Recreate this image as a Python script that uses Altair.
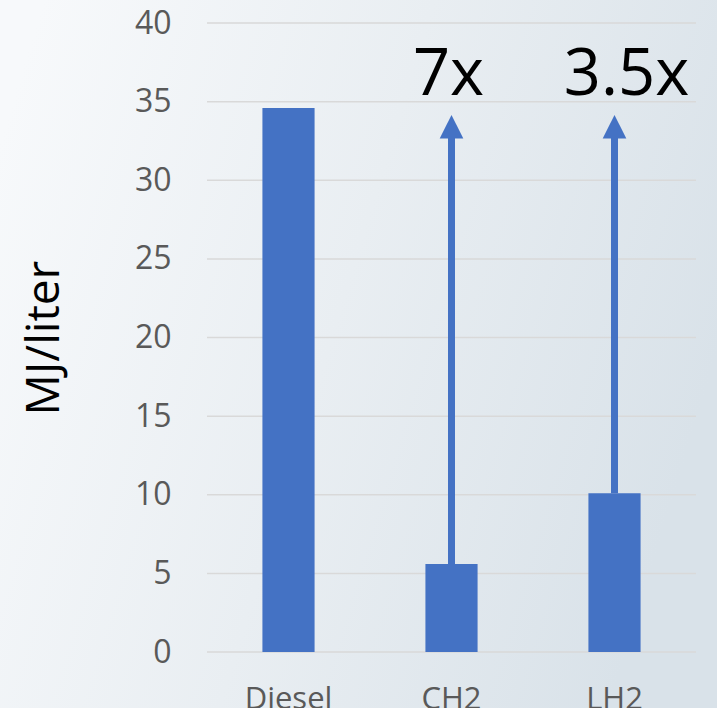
import altair as alt
import pandas as pd

categories = ["Diesel", "CH2", "LH2"]
values = [34.6, 5.6, 10.1]
arrow_cats = ["CH2", "LH2"]
arrow_start = [5.6, 10.1]
arrow_base = [32.7, 32.7]
arrow_tip = [33.4, 33.4]
labels = ["7x", "3.5x"]
label_y = [35.4, 35.4]
y_ticks = [0, 5, 10, 15, 20, 25, 30, 35, 40]

bars_df = pd.DataFrame({"fuel": categories, "value": values})
arrows_df = pd.DataFrame({"fuel": arrow_cats, "start": arrow_start,
                          "base": arrow_base, "tip": arrow_tip,
                          "label": labels, "ly": label_y})
grid_df = pd.DataFrame({"value": y_ticks})

W, H = 489, 629
BLUE = "#4472C4"

xscale = alt.Scale(domain=categories, paddingInner=0.68, paddingOuter=0.34)
yscale = alt.Scale(domain=[0, 40], nice=False)

x_enc = alt.X("fuel:N", scale=xscale, sort=categories, title=None,
              axis=alt.Axis(labelAngle=0, labelFontSize=31, labelColor="#595959",
                            labelFont="Open Sans", labelPadding=32, ticks=False,
                            domain=False, zindex=1))
y_enc = alt.Y("value:Q", scale=yscale,
              axis=alt.Axis(values=y_ticks, labelFontSize=32, labelColor="#595959",
                            labelFont="Open Sans", labelPadding=36, ticks=False,
                            domain=False, grid=False, zindex=1,
                            title="MJ/liter", titleFontSize=46, titleFont="Open Sans",
                            titleFontWeight="normal", titleColor="#000000",
                            titlePadding=66))

bg = alt.Chart(pd.DataFrame({"a": [0]})).mark_rect(
    fill=alt.Gradient(gradient="linear", x1=0, y1=0.2, x2=1, y2=0.5,
                      stops=[alt.GradientStop(offset=0, color="#f7f9fb"),
                             alt.GradientStop(offset=0.5, color="#e9eef2"),
                             alt.GradientStop(offset=1, color="#d9e2e9")])
).encode(x=alt.value(-207), x2=alt.value(W + 21), y=alt.value(-23), y2=alt.value(H + 56))

grid = alt.Chart(grid_df).mark_rule(color="#d9d9d9", strokeWidth=1.5).encode(
    y=alt.Y("value:Q", scale=yscale), x=alt.value(0), x2=alt.value(W))

bars = alt.Chart(bars_df).mark_bar(color=BLUE).encode(x=x_enc, y=y_enc)

shaft = alt.Chart(arrows_df).mark_rule(color=BLUE, strokeWidth=7).encode(
    x=alt.X("fuel:N", scale=xscale, sort=categories),
    y=alt.Y("start:Q", scale=yscale), y2="base:Q")

head = alt.Chart(arrows_df).mark_point(
    shape="M0,-1L1,1L-1,1Z", filled=True, fill=BLUE, size=560, opacity=1
).encode(x=alt.X("fuel:N", scale=xscale, sort=categories),
         y=alt.Y("tip:Q", scale=yscale))

txt1 = alt.Chart(arrows_df).transform_filter(alt.datum.fuel == "CH2").mark_text(
    fontSize=65, font="Open Sans", color="#000000", baseline="alphabetic", dx=-3
).encode(x=alt.X("fuel:N", scale=xscale, sort=categories),
         y=alt.Y("ly:Q", scale=yscale), text="label:N")
txt2 = alt.Chart(arrows_df).transform_filter(alt.datum.fuel == "LH2").mark_text(
    fontSize=65, font="Open Sans", color="#000000", baseline="alphabetic", dx=12
).encode(x=alt.X("fuel:N", scale=xscale, sort=categories),
         y=alt.Y("ly:Q", scale=yscale), text="label:N")

chart = alt.layer(bg, grid, bars, shaft, head, txt1, txt2).properties(
    width=W, height=H,
    autosize=alt.AutoSizeParams(type="none"),
    padding={"left": 207, "top": 23, "right": 21, "bottom": 56},
    background="#eef2f5",
).configure_view(stroke=None)

chart.save("out.html", embed_options={"renderer": "svg", "actions": False})
